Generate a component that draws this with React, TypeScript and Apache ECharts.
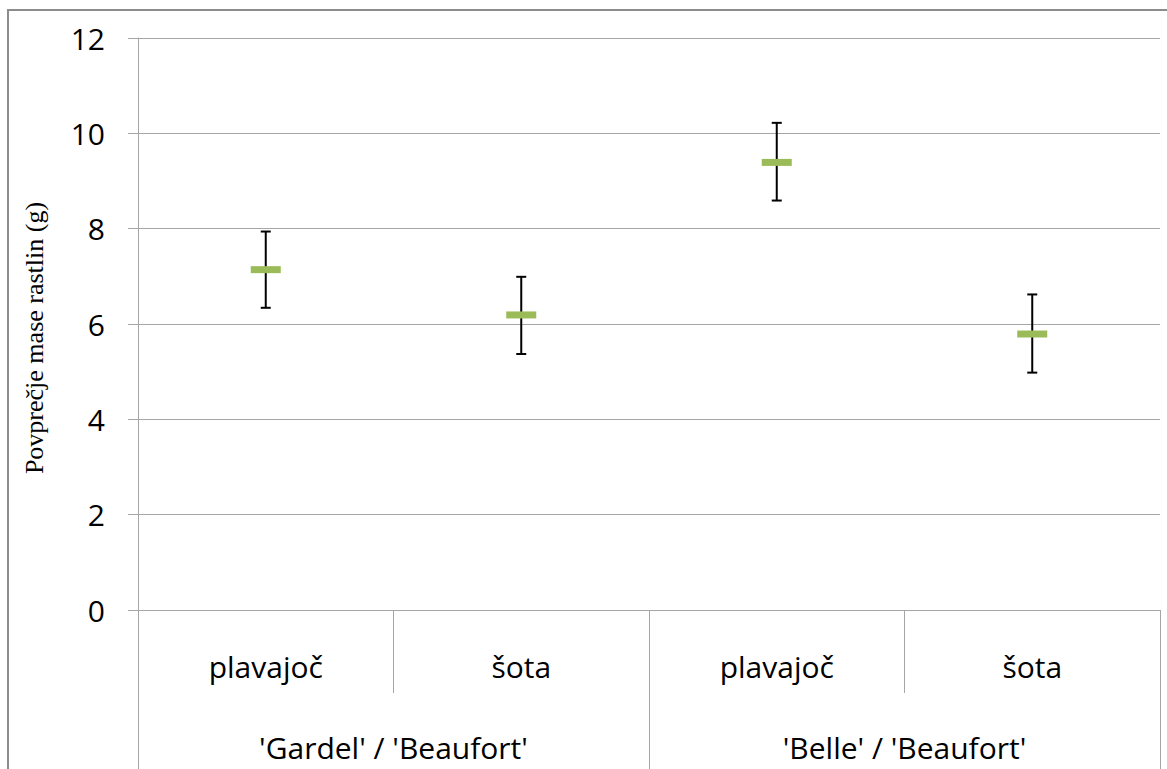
import React, { useEffect, useRef } from "react";
import * as echarts from "echarts";

const categories = ["plavajoč", "šota", "plavajoč", "šota"];
const groups = ["'Gardel' / 'Beaufort'", "'Belle' / 'Beaufort'"];
const means = [7.14, 6.19, 9.39, 5.79];
const lows = [6.34, 5.37, 8.59, 4.98];
const highs = [7.94, 6.99, 10.22, 6.62];
const yTicks = [0, 2, 4, 6, 8, 10, 12];

const FONT = "'Open Sans', sans-serif";
const GRID = "#a6a6a6";

export default function App() {
  const ref = useRef<HTMLDivElement>(null);
  useEffect(() => {
    if (!ref.current) return;
    const chart = echarts.init(ref.current, null, { renderer: "svg" });
    const data = categories.map((_, i) => [i, means[i], lows[i], highs[i]]);
    chart.setOption({
      animation: false,
      backgroundColor: "#fff",
      graphic: [
        {
          type: "rect",
          shape: { x: 8, y: 10, width: 1200, height: 800 },
          style: { fill: "none", stroke: "#8c8c8c", lineWidth: 2 },
          silent: true,
          z: 0,
        },
      ],
      grid: { left: 138, right: 7, top: 38, bottom: 159, containLabel: false },
      xAxis: [
        {
          type: "category",
          data: categories,
          position: "bottom",
          boundaryGap: true,
          axisLine: { show: true, onZero: false, lineStyle: { color: GRID, width: 1 } },
          axisTick: { show: true, length: 83, lineStyle: { color: GRID } },
          axisLabel: { margin: 41, fontFamily: FONT, fontSize: 30, color: "#000" },
          splitLine: { show: false },
        },
        {
          type: "category",
          data: groups,
          position: "bottom",
          boundaryGap: true,
          axisLine: { show: false },
          axisTick: { show: true, length: 160, lineStyle: { color: GRID } },
          axisLabel: { margin: 122, fontFamily: FONT, fontSize: 30, color: "#000" },
          splitLine: { show: false },
        },
      ],
      yAxis: {
        type: "value",
        min: yTicks[0],
        max: yTicks[yTicks.length - 1],
        interval: 2,
        name: "Povprečje mase rastlin (g)",
        nameLocation: "middle",
        nameGap: 91,
        nameTextStyle: {
          fontFamily: "'Liberation Serif', serif",
          fontSize: 26,
          color: "#000",
          padding: [0, 28, 0, 0],
        },
        axisLine: { show: true, lineStyle: { color: GRID } },
        axisTick: { show: true, length: 10, inside: false, lineStyle: { color: GRID } },
        axisLabel: { margin: 33, fontFamily: FONT, fontSize: 30, color: "#000" },
        splitLine: { show: true, lineStyle: { color: GRID, width: 1 } },
      },
      series: [
        {
          type: "custom",
          xAxisIndex: 0,
          data,
          renderItem: (params: any, api: any) => {
            const x = api.value(0);
            const m = api.coord([x, api.value(1)]);
            const lo = api.coord([x, api.value(2)]);
            const hi = api.coord([x, api.value(3)]);
            const cap = 5;
            const ls = { stroke: "#000", lineWidth: 2 };
            return {
              type: "group",
              children: [
                { type: "line", shape: { x1: hi[0], y1: hi[1], x2: lo[0], y2: lo[1] }, style: ls },
                { type: "line", shape: { x1: hi[0] - cap, y1: hi[1], x2: hi[0] + cap, y2: hi[1] }, style: ls },
                { type: "line", shape: { x1: lo[0] - cap, y1: lo[1], x2: lo[0] + cap, y2: lo[1] }, style: ls },
                {
                  type: "rect",
                  shape: { x: m[0] - 15, y: m[1] - 3.5, width: 30, height: 7 },
                  style: { fill: "#9bbb59" },
                },
              ],
            };
          },
          z: 5,
        },
      ],
    });
    return () => chart.dispose();
  }, []);
  return (
    <div
      ref={ref}
      style={{ position: "fixed", left: 0, top: 0, width: 1167, height: 769 }}
    />
  );
}
